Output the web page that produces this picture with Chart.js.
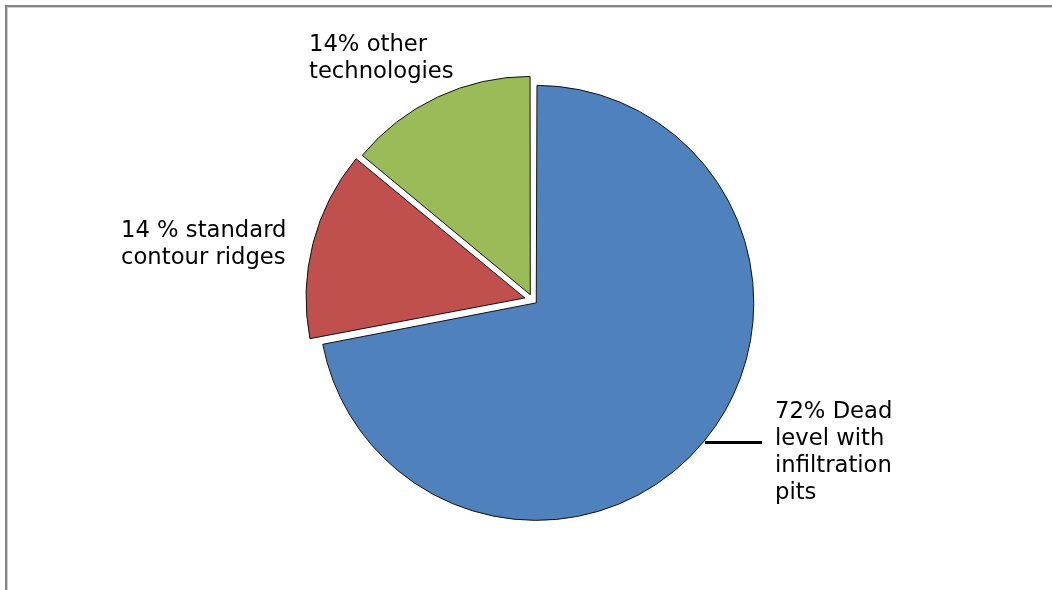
<!DOCTYPE html>
<html>
<head>
<meta charset="utf-8">
<script src="https://cdn.jsdelivr.net/npm/chart.js@4.4.1/dist/chart.umd.min.js"></script>
<style>
  html, body { margin: 0; padding: 0; background: #fff; }
  #wrap { position: relative; width: 1052px; height: 590px; overflow: hidden; }
  #frame { position: absolute; left: 5px; top: 5px; width: 1100px; height: 700px;
           border-left: 2px solid #858585; border-top: 2px solid #858585;
           box-shadow: inset 1px 1px 0 #cfcfcf; pointer-events: none; }
  canvas { position: absolute; left: 0; top: 0; }
</style>
</head>
<body>
<div id="wrap">
  <canvas id="pieMain" width="1052" height="590"></canvas>
  <canvas id="pieSmall" width="1052" height="590"></canvas>
  <div id="frame"></div>
</div>
<script>
// Share of terrace technologies
const categories = ['Dead level with infiltration pits', 'Standard contour ridges', 'Other technologies'];
const shares = [72, 14, 14];
const sliceColors = ['#4F81BD', '#C0504D', '#9BBB59'];
const labelLines = [
  ['72% Dead', 'level with', 'infiltration', 'pits'],
  ['14 % standard', 'contour ridges'],
  ['14% other', 'technologies']
];

// slice labels placed beside the pie
const labelPlugin = {
  id: 'sliceLabels',
  afterDraw(chart) {
    const ctx = chart.ctx;
    const spots = [
      { x: 775, y: 412 },
      { x: 121, y: 231 },
      { x: 309, y: 45 }
    ];
    ctx.save();
    ctx.font = '22.7px "DejaVu Sans", Verdana, sans-serif';
    ctx.fillStyle = '#000';
    ctx.textAlign = 'left';
    ctx.textBaseline = 'middle';
    labelLines.forEach((lines, i) => {
      lines.forEach((t, j) => ctx.fillText(t, spots[i].x, spots[i].y + j * 27));
    });
    // leader line for the large slice
    ctx.strokeStyle = '#000';
    ctx.lineWidth = 3;
    ctx.beginPath();
    ctx.moveTo(705, 442.5);
    ctx.lineTo(762, 442.5);
    ctx.stroke();
    ctx.restore();
  }
};

// The exploded pie is drawn in two layers: the large slice, then the two
// small slices, so each layer can have its own explosion distance.
function explodedPie(id, shown, offsets, radius, extraPlugins) {
  const none = 'rgba(0,0,0,0)';
  return new Chart(document.getElementById(id), {
    type: 'pie',
    data: {
      labels: categories,
      datasets: [{
        data: shares,
        backgroundColor: sliceColors.map((c, i) => shown[i] ? c : none),
        borderColor: sliceColors.map((c, i) => shown[i] ? '#111' : none),
        borderWidth: 1,
        offset: offsets
      }]
    },
    options: {
      responsive: false,
      animation: false,
      radius: radius,
      layout: { padding: { left: 23.6, right: 10, top: 20, bottom: 10 } },
      plugins: { legend: { display: false }, tooltip: { enabled: false } },
      events: []
    },
    plugins: extraPlugins
  });
}

explodedPie('pieMain', [true, false, false], [18, 0, 0], 213, []);
explodedPie('pieSmall', [false, true, true], [0, 32.8, 23.6], 216.9, [labelPlugin]);
</script>
</body>
</html>
